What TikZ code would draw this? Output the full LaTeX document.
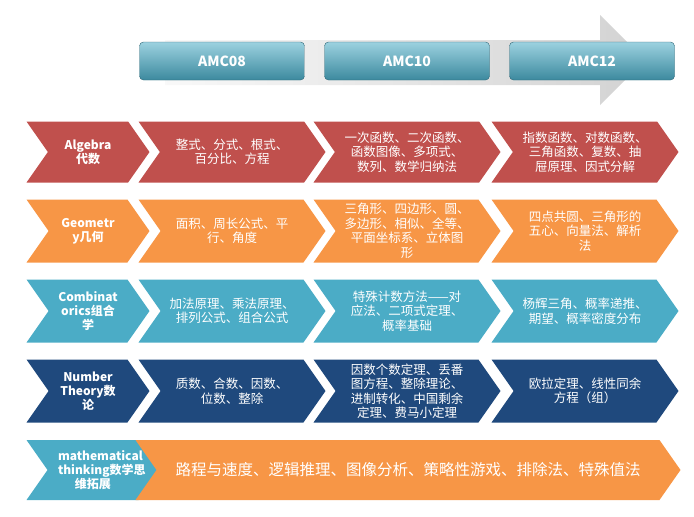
\documentclass[tikz,border=0pt]{standalone}
\usepackage{fontspec}
\setmainfont{Noto Sans CJK SC}
\usetikzlibrary{shapes.symbols}
\definecolor{cred}{HTML}{C0504D}
\definecolor{corange}{HTML}{F79646}
\definecolor{cteal}{HTML}{4BACC6}
\definecolor{cnavy}{HTML}{1F497D}
\tikzset{
  chev/.style={
    signal,signal from=west,signal to=east,
    signal pointer angle=110,
    inner sep=0,outer sep=0,
    text=white,align=center,
    font=\fontsize{12.5}{14.5}\selectfont,
  },
  head/.style={
    chev,
    minimum width=123pt,
    text width=70pt,
    font=\fontsize{12}{14}\selectfont\bfseries,
  },
  body/.style={
    chev,
    minimum width=187pt,
    text width=135pt,
  },
  amc/.style={
    rectangle,rounded corners=4pt,
    top color=cteal!55!white,bottom color=cteal!80!black,
    draw=cteal!60!black,
    minimum width=165pt,minimum height=38pt,
    text=white,font=\fontsize{14}{16}\selectfont\bfseries,
  }
}
\begin{document}
\begin{tikzpicture}[x=1pt,y=-1pt]
  \useasboundingbox (0,0) rectangle (694,517);

  % grey arrow
  \shade[left color=gray!5,right color=gray!35]
    (165,40) -- (600,40) -- (600,15) -- (645,60) -- (600,105)
    -- (600,85) -- (165,85) -- cycle;

  \node[amc] (a08) at (222,61) {AMC08};
  \node[amc] (a10) at (407,61) {AMC10};
  \node[amc] (a12) at (592,61) {AMC12};

  % Algebra
  \begin{scope}[every node/.append style={fill=cred,minimum height=61pt}]
    \node[head] (alg) at (88,152) {Algebra\\代数};
    \node[body] (alg1) at (232,152) {整式、分式、根式、\\百分比、方程};
    \node[body] (alg2) at (407,152) {一次函数、二次函数、\\函数图像、多项式、\\数列、数学归纳法};
    \node[body] (alg3) at (585,152) {指数函数、对数函数、\\三角函数、复数、抽\\屉原理、因式分解};
  \end{scope}

  % Geometry
  \begin{scope}[every node/.append style={fill=corange,minimum height=63pt}]
    \node[head] (geo) at (88,231) {Geometr\\y几何};
    \node[body] (geo1) at (232,231) {面积、周长公式、平\\行、角度};
    \node[body] (geo2) at (407,231) {三角形、四边形、圆、\\多边形、相似、全等、\\平面坐标系、立体图\\形};
    \node[body] (geo3) at (585,231) {四点共圆、三角形的\\五心、向量法、解析\\法};
  \end{scope}

  % Combinatorics
  \begin{scope}[every node/.append style={fill=cteal,minimum height=63pt}]
    \node[head] (com) at (88,311) {Combinat\\orics组合\\学};
    \node[body] (com1) at (232,311) {加法原理、乘法原理、\\排列公式、组合公式};
    \node[body] (com2) at (407,311) {特殊计数方法——对\\应法、二项式定理、\\概率基础};
    \node[body] (com3) at (585,311) {杨辉三角、概率递推、\\期望、概率密度分布};
  \end{scope}

  % Number theory
  \begin{scope}[every node/.append style={fill=cnavy,minimum height=63pt}]
    \node[head] (num) at (88,391) {Number\\Theory数\\论};
    \node[body] (num1) at (232,391) {质数、合数、因数、\\位数、整除};
    \node[body] (num2) at (407,391) {因数个数定理、丢番\\图方程、整除理论、\\进制转化、中国剩余\\定理、费马小定理};
    \node[body] (num3) at (585,391) {欧拉定理、线性同余\\方程（组）};
  \end{scope}

  % mathematical thinking
  \node[head,fill=cteal,minimum height=60pt,minimum width=133pt]
    (mat) at (93,470) {mathematical\\thinking数学思\\维拓展};
  \node[chev,fill=corange,minimum height=60pt,minimum width=545pt,
    text width=480pt,font=\fontsize{15.5}{17}\selectfont]
    (mat1) at (408,470) {路程与速度、逻辑推理、图像分析、策略性游戏、排除法、特殊值法};
\end{tikzpicture}
\end{document}
